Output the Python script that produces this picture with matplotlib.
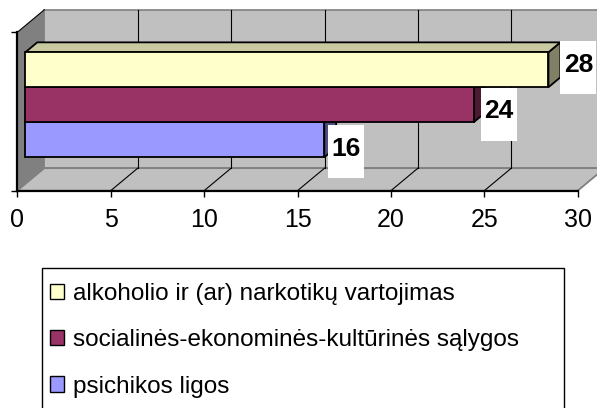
import matplotlib
matplotlib.use("Agg")
import matplotlib.pyplot as plt
from matplotlib.patches import Patch, Rectangle

plt.rcParams['font.family'] = ['Liberation Sans', 'DejaVu Sans']

# data (one category, three series; drawn bottom to top)
labels = ["psichikos ligos",
          "socialinės-ekonominės-kultūrinės sąlygos",
          "alkoholio ir (ar) narkotikų vartojimas"]
values = [16, 24, 28]
front_colors = ["#9999FF", "#993366", "#FFFFCC"]
top_colors = ["#7A7ACC", "#7A2952", "#C9C9A1"]
side_colors = ["#4D4D80", "#4D1A33", "#808066"]
xticks = [0, 5, 10, 15, 20, 25, 30]

# layout (figure pixels)
W, H = 597, 408
PX_X = 18.68          # pixels per value unit
PX_Y = 158.4          # pixels per y unit (front plane height)
DX = 27 / PX_X        # full depth offset, value units
DY = 22.5 / PX_Y      # full depth offset, y units
F1, F2 = 0.30, 0.74   # bar front/back depth fractions
BAR_H = 35 / PX_Y

# per-label nudges in pixels (blue, maroon, yellow)
label_shift_px = [22, 25, 30]
label_drop_px = [12, 9.5, -2]


def proj(v, y, z):
    return v + z * DX, y + z * DY


def face(ax, pts, fc, ec, lw, z):
    xs, ys = zip(*[proj(*p) for p in pts])
    ax.fill(xs, ys, facecolor=fc, edgecolor=ec, linewidth=lw,
            clip_on=False, zorder=z, joinstyle='miter')


fig = plt.figure(figsize=(W / 100, H / 100), dpi=100)
ax = fig.add_axes([17.3 / W, 217.3 / H, 30 * PX_X / W, PX_Y / H])
ax.set_xlim(0, 30)
ax.set_ylim(0, 1)
ax.patch.set_visible(False)

xmax = xticks[-1]

# walls and floor
face(ax, [(0, 0, 1), (xmax, 0, 1), (xmax, 1, 1), (0, 1, 1)], "#C0C0C0", "#808080", 1.2, 1)
face(ax, [(0, 0, 0), (0, 1, 0), (0, 1, 1), (0, 0, 1)], "#808080", "none", 0, 1)
face(ax, [(0, 0, 0), (xmax, 0, 0), (xmax, 0, 1), (0, 0, 1)], "#C0C0C0", "#808080", 1.2, 1)
x0, y0 = proj(0, 1, 0)
x1, y1 = proj(0, 1, 1)
ax.plot([x0, x1], [y0, y1], color="black", lw=0.8, clip_on=False, zorder=2)

# gridlines on back wall and floor
for t in xticks[1:]:
    bx, by = proj(t, 0, 1)
    tx, ty = proj(t, 1, 1)
    fx, fy = proj(t, 0, 0)
    col = "#808080" if t == xmax else "black"
    if t != xmax:
        ax.plot([bx, tx], [by, ty], color="black", lw=0.8, clip_on=False, zorder=2)
    ax.plot([fx, bx], [fy, by], color=col, lw=0.8, clip_on=False, zorder=2)

# bars
for i, v in enumerate(values):
    yb = 0.5 + (i - 1.5) * BAR_H
    yt = yb + BAR_H
    zb = 3 + i
    face(ax, [(v, yb, F1), (v, yb, F2), (v, yt, F2), (v, yt, F1)], side_colors[i], "black", 1.3, zb)
    face(ax, [(0, yt, F1), (v, yt, F1), (v, yt, F2), (0, yt, F2)], top_colors[i], "black", 1.3, zb)
    face(ax, [(0, yb, F1), (v, yb, F1), (v, yt, F1), (0, yt, F1)], front_colors[i], "black", 1.3, zb)

# value labels in white boxes
bw, bh = 36 / PX_X, 52.5 / PX_Y
for i, v in enumerate(values):
    yc = 0.5 + (i - 1) * BAR_H
    cx, cy = proj(v, yc, F1)
    cx += label_shift_px[i] / PX_X
    cy -= label_drop_px[i] / PX_Y
    ax.add_patch(Rectangle((cx - bw / 2, cy - bh / 2), bw, bh, facecolor="white",
                           edgecolor="none", clip_on=False, zorder=10))
    ax.text(cx, cy + 3 / PX_Y, str(v), ha="center", va="center", fontsize=19,
            fontweight="bold", zorder=11, clip_on=False)

# axes lines and ticks
for s in ["top", "right"]:
    ax.spines[s].set_visible(False)
ax.spines["bottom"].set_linewidth(1.6)
ax.spines["left"].set_linewidth(1.6)
ax.spines["bottom"].set_zorder(12)
ax.spines["left"].set_zorder(12)
ax.set_xticks(xticks)
ax.set_xticklabels([str(t) for t in xticks])
ax.tick_params(axis="x", direction="out", length=4.3, width=1, pad=8.5, labelsize=18)
ax.set_yticks([0, 1])
ax.set_yticklabels([])
ax.tick_params(axis="y", direction="out", length=4.3, width=1)

# legend: frame drawn separately (runs off the bottom edge)
fig.patches.append(Rectangle((42 / W, (H - 410) / H), 522 / W, 142 / H,
                             transform=fig.transFigure, facecolor="white",
                             edgecolor="black", linewidth=1.0, zorder=0))
handles = [Patch(facecolor=front_colors[i], edgecolor="black", linewidth=1)
           for i in range(len(values) - 1, -1, -1)]
leg_labels = [labels[i] for i in range(len(values) - 1, -1, -1)]
leg = fig.legend(handles, leg_labels, loc="upper left",
                 bbox_to_anchor=(50 / W, (H - 283) / H),
                 fontsize=17.5, handlelength=0.58, handleheight=0.58, handletextpad=0.35,
                 borderpad=0, labelspacing=1.0, borderaxespad=0, frameon=False)

fig.savefig("out.png", dpi=100)
